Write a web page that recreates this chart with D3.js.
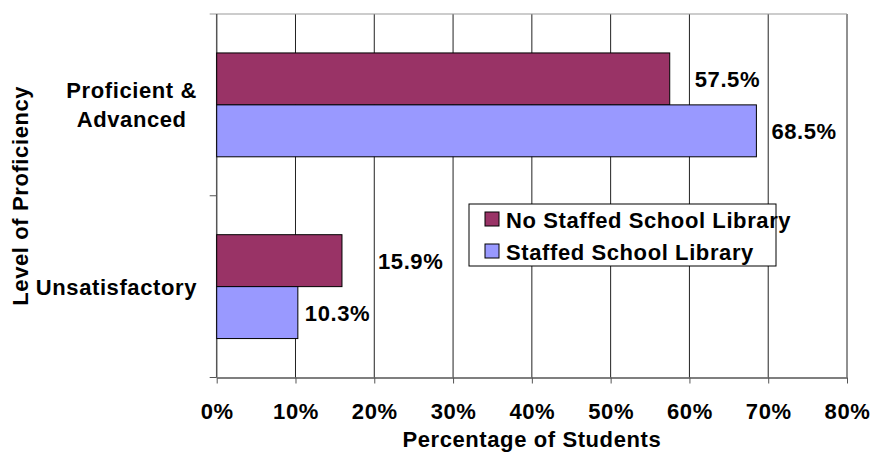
<!DOCTYPE html>
<html>
<head>
<meta charset="utf-8">
<script src="https://cdn.jsdelivr.net/npm/d3@7"></script>
<style>
  body { margin: 0; background: #fff; }
  svg text { font-family: "Liberation Sans", Arial, sans-serif; font-weight: bold; fill: #000; }
</style>
</head>
<body>
<svg id="chart" width="870" height="453"></svg>
<script>
// ---- data ----
const categories = ["Proficient & Advanced", "Unsatisfactory"];
const categoryLines = [["Proficient &", "Advanced"], ["Unsatisfactory"]];
const seriesNames = ["No Staffed School Library", "Staffed School Library"];
const noStaffedValues = [0.575, 0.159];
const staffedValues = [0.685, 0.103];
const xTickValues = [0, 0.1, 0.2, 0.3, 0.4, 0.5, 0.6, 0.7, 0.8];
const xTitle = "Percentage of Students";
const yTitle = "Level of Proficiency";

(function () {
// ---- style ----
const colors = ["#993366", "#9999FF"];
const fontSize = 22;
const letterSpacing = 0.6;
// label offsets (px) from bar end, per series per category (as placed in original)
const labelDx = [[25, 36], [15, 7]];

const svg = d3.select("#chart");
const pLeft = 216.7, pRight = 847, pTop = 14, pBottom = 377.5;

const x = d3.scaleLinear().domain([0, 0.8]).range([pLeft, pRight]);
const y = d3.scaleBand().domain(categories).range([pTop, pBottom]).paddingInner(0).paddingOuter(0);
const ySub = d3.scaleBand().domain(seriesNames).range([0, y.bandwidth()]).paddingInner(0).paddingOuter(0.75);

const series = [noStaffedValues, staffedValues];

// gridlines
svg.append("g").selectAll("line").data(xTickValues.slice(1)).join("line")
  .attr("x1", d => x(d)).attr("x2", d => x(d))
  .attr("y1", pTop).attr("y2", pBottom)
  .attr("stroke", "#222").attr("stroke-width", 1);

// category axis boundary ticks (top line, middle, bottom)
const yBounds = categories.map(c => y(c)).concat([y.range()[1]]);
svg.append("g").selectAll("line").data(yBounds).join("line")
  .attr("x1", pLeft - 7).attr("x2", d => d === pTop ? pRight : pLeft)
  .attr("y1", d => d).attr("y2", d => d)
  .attr("stroke", d => d === pTop ? "#999" : "#555").attr("stroke-width", 1);

// left axis line
svg.append("line").attr("x1", pLeft).attr("x2", pLeft).attr("y1", pTop).attr("y2", pBottom)
  .attr("stroke", "#555").attr("stroke-width", 1.5);

// bars
series.forEach((vals, si) => {
  svg.append("g").selectAll("rect").data(vals).join("rect")
    .attr("x", x(0))
    .attr("y", (d, i) => y(categories[i]) + ySub(seriesNames[si]))
    .attr("width", d => x(d) - x(0))
    .attr("height", ySub.bandwidth())
    .attr("fill", colors[si])
    .attr("stroke", "#000").attr("stroke-width", 1);
});

// value labels
series.forEach((vals, si) => {
  svg.append("g").selectAll("text").data(vals).join("text")
    .attr("x", (d, i) => x(d) + labelDx[si][i])
    .attr("y", (d, i) => y(categories[i]) + ySub(seriesNames[si]) + ySub.bandwidth() / 2)
    .attr("dy", "0.36em")
    .style("font-size", fontSize + "px")
    .style("letter-spacing", letterSpacing + "px")
    .text(d => d3.format(".1%")(d));
});

// x axis
const xAxis = d3.axisBottom(x).tickValues(xTickValues).tickFormat(d3.format(".0%"))
  .tickSize(6).tickPadding(20).tickSizeOuter(0);
const gx = svg.append("g").attr("transform", `translate(0,${pBottom})`).call(xAxis);
gx.attr("font-family", null).attr("font-size", null);
gx.select(".domain").attr("stroke", "#555").attr("stroke-width", 1.5);
gx.selectAll(".tick line").attr("stroke", "#555");
gx.selectAll(".tick text")
  .style("font-size", fontSize + "px")
  .style("letter-spacing", letterSpacing + "px");

// category labels
categories.forEach((c, i) => {
  const lines = categoryLines[i];
  const cy = y(c) + y.bandwidth() / 2;
  const lh = 29;
  const g = svg.append("g");
  const texts = g.selectAll("text").data(lines).join("text")
    .attr("y", (d, j) => cy + (j - (lines.length - 1) / 2) * lh)
    .attr("dy", "0.36em")
    .attr("text-anchor", "middle")
    .style("font-size", fontSize + "px")
    .style("letter-spacing", letterSpacing + "px")
    .text(d => d);
  let maxW = 0;
  texts.each(function () { maxW = Math.max(maxW, this.getComputedTextLength()); });
  texts.attr("x", 197 - maxW / 2);
});

// axis titles
svg.append("text")
  .attr("x", (pLeft + pRight) / 2).attr("y", 447)
  .attr("text-anchor", "middle")
  .style("font-size", fontSize + "px")
  .style("letter-spacing", letterSpacing + "px")
  .text(xTitle);

svg.append("text")
  .attr("transform", `translate(28,${(pTop + pBottom) / 2}) rotate(-90)`)
  .attr("text-anchor", "middle")
  .style("font-size", fontSize + "px")
  .style("letter-spacing", letterSpacing + "px")
  .text(yTitle);

// legend
const lg = svg.append("g").attr("transform", "translate(469,204)");
lg.append("rect").attr("width", 307).attr("height", 62)
  .attr("fill", "#fff").attr("stroke", "#000").attr("stroke-width", 1);
seriesNames.forEach((name, i) => {
  lg.append("rect").attr("x", 16).attr("y", 8 + i * 32).attr("width", 14).attr("height", 14)
    .attr("fill", colors[i]).attr("stroke", "#000").attr("stroke-width", 1);
  lg.append("text").attr("x", 37).attr("y", 24 + i * 32)
    .style("font-size", fontSize + "px")
    .style("letter-spacing", letterSpacing + "px")
    .text(name);
});
})();
</script>
</body>
</html>
